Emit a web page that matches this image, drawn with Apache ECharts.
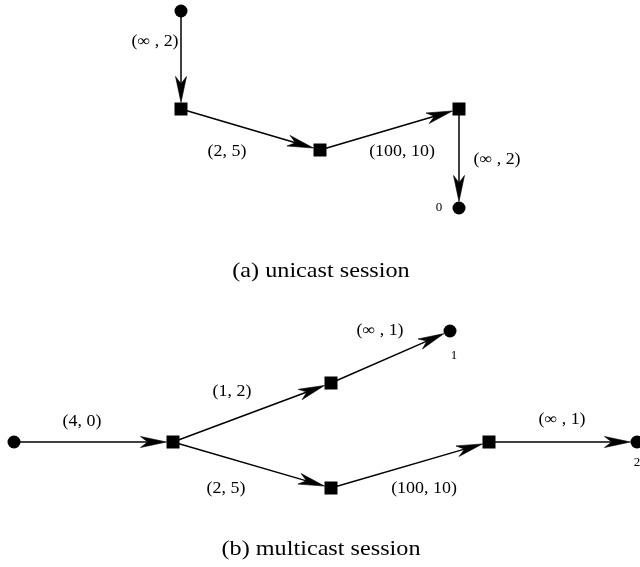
<!DOCTYPE html>
<html>
<head>
<meta charset="utf-8">
<script src="https://cdn.jsdelivr.net/npm/echarts@6/dist/echarts.min.js"></script>
<style>html,body{margin:0;padding:0;background:#fff}#c{width:640px;height:567px}</style>
</head>
<body>
<div id="c"></div>
<script>
// ---- data ----
const nodeNames = ['uSrc','uR1','uR2','uR3','uDst','mSrc','mR1','mR2','mDst1','mR3','mR4','mDst2'];
const nodeKinds = ['host','router','router','router','host','host','router','router','host','router','router','host'];
const nodeX = [181, 181, 320, 459, 459, 14, 173, 331, 450, 331, 489, 637];
const nodeY = [11, 109, 150, 109, 208, 442, 442, 383, 331, 488, 442, 442];

const edgeFrom = ['uSrc','uR1','uR2','uR3','mSrc','mR1','mR2','mR1','mR3','mR4'];
const edgeTo   = ['uR1','uR2','uR3','uDst','mR1','mR2','mDst1','mR3','mR4','mDst2'];
const edgeLabels = ['(∞ , 2)','(2, 5)','(100, 10)','(∞ , 2)','(4, 0)','(1, 2)','(∞ , 1)','(2, 5)','(100, 10)','(∞ , 1)'];
const edgeLabelX = [155, 227, 402, 497, 82, 232, 380, 226, 424, 562];
const edgeLabelY = [42, 152, 152, 160, 422, 392, 331, 489, 489, 420];

const nodeLabels = ['0', '1', '2'];
const nodeLabelX = [439, 454, 637];
const nodeLabelY = [208, 356, 463];

const captions = ['(a) unicast session', '(b) multicast session'];
const captionX = [321, 321];
const captionY = [271, 549];

// ---- build ----
const idx = n => nodeNames.indexOf(n);
const nodeData = nodeNames.map((n, i) => ({
  value: [nodeX[i], nodeY[i]],
  symbol: nodeKinds[i] === 'host' ? 'circle' : 'rect'
}));
const edgeData = edgeFrom.map((f, i) => {
  const a = idx(f), b = idx(edgeTo[i]);
  return [nodeX[a], nodeY[a], nodeX[b], nodeY[b], nodeKinds[b] === 'host' ? 0 : 1];
});
const edgeLabelData = edgeLabels.map((t, i) => [edgeLabelX[i], edgeLabelY[i], t]);
const nodeLabelData = nodeLabels.map((t, i) => [nodeLabelX[i], nodeLabelY[i], t]);
const captionData = captions.map((t, i) => [captionX[i], captionY[i], t]);

const HALF = 6.5, AL = 26, AW = 5.5;
function arrowItem(params, api) {
  const p1 = api.coord([api.value(0), api.value(1)]);
  const p2 = api.coord([api.value(2), api.value(3)]);
  const isSq = api.value(4) === 1;
  let dx = p2[0] - p1[0], dy = p2[1] - p1[1];
  const len = Math.sqrt(dx * dx + dy * dy);
  const ux = dx / len, uy = dy / len;
  const d = isSq ? HALF / Math.max(Math.abs(ux), Math.abs(uy)) : HALF;
  const tip = [p2[0] - ux * d, p2[1] - uy * d];
  const back = [tip[0] - ux * AL, tip[1] - uy * AL];
  const notch = [tip[0] - ux * AL * 0.72, tip[1] - uy * AL * 0.72];
  const nx = -uy, ny = ux;
  return {
    type: 'group',
    children: [
      { type: 'line', shape: { x1: p1[0], y1: p1[1], x2: notch[0], y2: notch[1] },
        style: { stroke: '#000', lineWidth: 1.5 } },
      { type: 'polygon', shape: { points: [tip, [back[0] + nx * AW, back[1] + ny * AW], notch, [back[0] - nx * AW, back[1] - ny * AW]] },
        style: { fill: '#000', stroke: '#000', lineWidth: 0.6, lineJoin: 'miter' } }
    ]
  };
}
function textRenderer(size, sx) {
  return function (params, api) {
    const p = api.coord([api.value(0), api.value(1)]);
    return {
      type: 'text', x: p[0], y: p[1], scaleX: sx,
      style: { text: api.value(2), x: 0, y: 0, fill: '#000',
        font: size + 'px "Liberation Serif", "Times New Roman", serif',
        textAlign: 'center', textVerticalAlign: 'middle' }
    };
  };
}

const chart = echarts.init(document.getElementById('c'), null, { renderer: 'canvas' });
chart.setOption({
  animation: false,
  backgroundColor: '#fff',
  grid: { left: 0, right: 0, top: 0, bottom: 0 },
  xAxis: { type: 'value', min: 0, max: 640, show: false },
  yAxis: { type: 'value', min: 0, max: 567, inverse: true, show: false },
  series: [
    { type: 'custom', renderItem: arrowItem, data: edgeData, z: 1, silent: true },
    { type: 'scatter', data: nodeData, symbolSize: 13, itemStyle: { color: '#000', opacity: 1 }, z: 3, silent: true },
    { type: 'custom', renderItem: textRenderer(16, 1.12), data: edgeLabelData, z: 4, silent: true },
    { type: 'custom', renderItem: textRenderer(13, 1.0), data: nodeLabelData, z: 4, silent: true },
    { type: 'custom', renderItem: textRenderer(22, 1.1), data: captionData, z: 4, silent: true }
  ]
});
</script>
</body>
</html>
